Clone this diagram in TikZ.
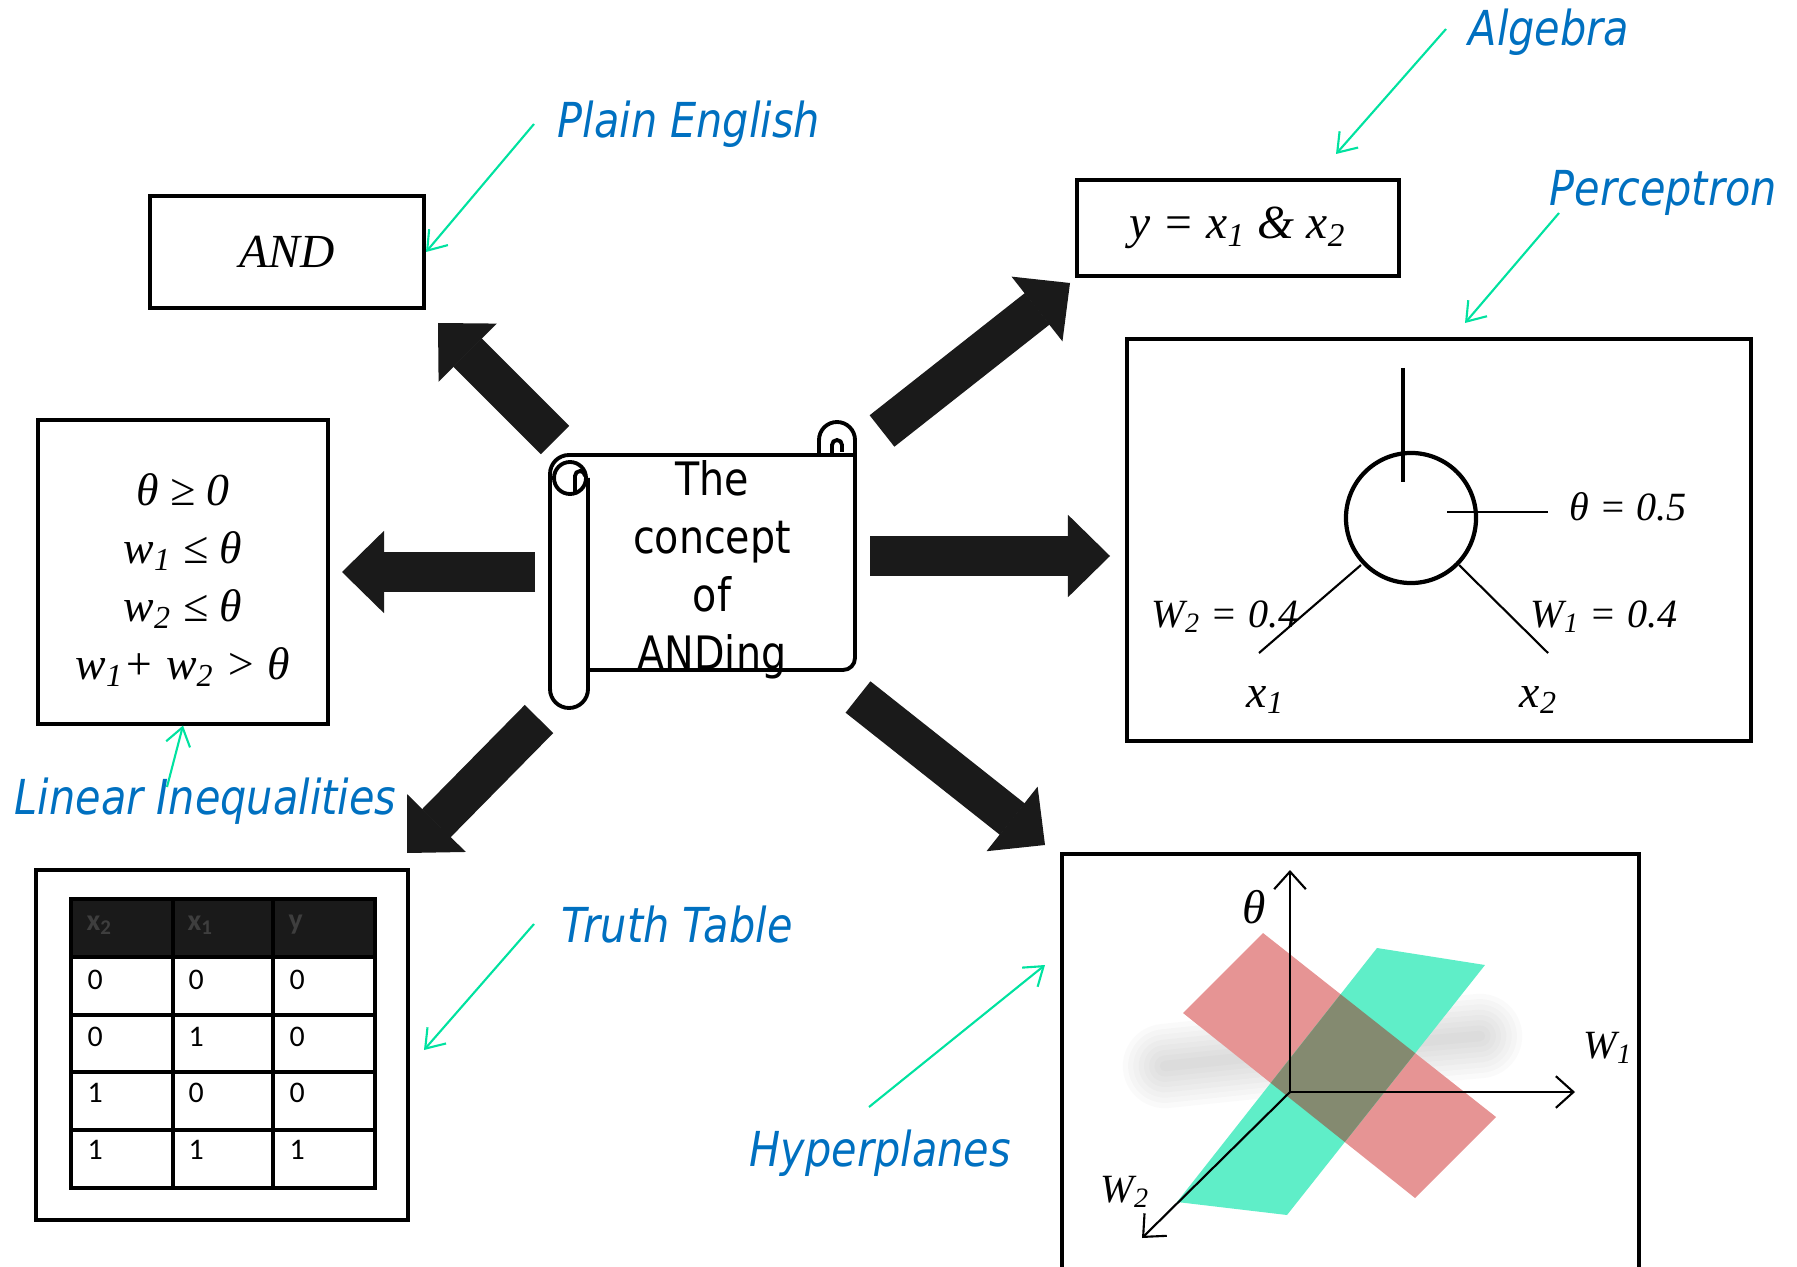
\documentclass[tikz,border=0pt]{standalone}
\usepackage{fontspec}
\usetikzlibrary{arrows.meta}

\newfontfamily\lblfont{DejaVu Sans}[FakeStretch=0.86]
\newfontfamily\eqfont{Liberation Serif}
\newfontfamily\tabfont{Carlito}

\definecolor{lblblue}{RGB}{0,112,192}
\definecolor{ptrgreen}{RGB}{0,226,160}
\definecolor{arrowdark}{RGB}{26,26,26}
\definecolor{headtext}{RGB}{62,62,62}
\definecolor{planepink}{RGB}{230,148,148}
\definecolor{planecyan}{RGB}{95,238,200}
\definecolor{planemix}{RGB}{132,138,112}

\tikzset{
  box/.style={draw, line width=1.1pt, inner sep=0pt},
  lbl/.style={text=lblblue, font=\lblfont\itshape\fontsize{13.7}{16}\selectfont, inner sep=0pt, anchor=base west},
  pointer/.style={draw=ptrgreen, line width=0.6pt, -{Straight Barb[length=5pt,width=7pt]}},
  bigarrow/.style={draw=arrowdark, line width=0.4cm, -{Triangle[width=0.82cm,length=0.42cm,line width=0.5pt]}},
  eq/.style={font=\eqfont\itshape\fontsize{13.5}{16.5}\selectfont, inner sep=0pt},
  eqsmall/.style={font=\eqfont\itshape\fontsize{11.4}{14}\selectfont, inner sep=0pt, anchor=base west},
  scrollline/.style={line width=1.1pt},
  cell/.style={font=\tabfont\fontsize{8.5}{10}\selectfont, inner sep=0pt, anchor=west},
  axis/.style={line width=0.6pt, -{Straight Barb[length=5pt,width=9pt]}}
}

\begin{document}
\begin{tikzpicture}[x=0.01cm, y=-0.01cm]
\useasboundingbox (0,0) rectangle (1797,1267);

% Cajas
\node[box, eq, minimum width=2.74cm, minimum height=1.12cm] (andbox) at (287,252) {AND};
\node[box, eq, minimum width=3.21cm, minimum height=0.96cm] (algbox) at (1238,228)
  {y = x\textsubscript{1} \& x\textsubscript{2}};
\node[box, minimum width=6.24cm, minimum height=4.01cm] (percbox) at (1439,540) {};
\node[box, minimum width=2.89cm, minimum height=3.03cm] (ineqbox) at (183,572) {};
\node[box, minimum width=3.71cm, minimum height=3.5cm] (truthbox) at (222,1045) {};
\node[box, minimum width=5.77cm, minimum height=4.4cm, anchor=north west] (hyperbox) at (1060,852) {};

% Desigualdades
\node[eq, align=center, font=\eqfont\itshape\fontsize{13}{16.5}\selectfont] (ineqtxt) at (183,580)
  {θ ≥ 0\\ w\textsubscript{1} ≤ θ\\ w\textsubscript{2} ≤ θ\\ w\textsubscript{1}+ w\textsubscript{2} > θ};

% Pergamino central
\draw[scrollline, rounded corners=3.4pt] (588,670) -- (855,670) -- (855,440);
\draw[scrollline] (855,440) arc[start angle=0, end angle=-180, radius=18] -- (819,455);
\draw[scrollline] (832,455) -- (832,445) arc[start angle=180, end angle=360, radius=5] -- (842,452);
\draw[scrollline] (855,455) -- (569,455) arc[start angle=270, end angle=180, radius=19]
  -- (550,689) arc[start angle=180, end angle=0, radius=19] -- (588,478);
\draw[scrollline] (570,478) circle[radius=16];
\draw[scrollline] (575,493) -- (575,476) arc[start angle=180, end angle=360, radius=5];
\node[align=center, font=\lblfont\fontsize{13.1}{16.5}\selectfont, inner sep=0pt] (scroll) at (712,570)
  {The\\concept\\of\\ANDing};

% Flechas grandes
\coordinate (and-tail) at (555,440);    \coordinate (and-tip) at (438,323);
\coordinate (alg-tail) at (882,431);    \coordinate (alg-tip) at (1070,283);
\coordinate (ineq-tail) at (535,572);   \coordinate (ineq-tip) at (342,572);
\coordinate (perc-tail) at (870,556);   \coordinate (perc-tip) at (1110,556);
\coordinate (truth-tail) at (539,719);  \coordinate (truth-tip) at (407,853);
\coordinate (hyper-tail) at (858,697);  \coordinate (hyper-tip) at (1045,845);
\foreach \t in {and,alg,ineq,perc,truth,hyper}
  \draw[bigarrow] (\t-tail) -- (\t-tip);

% Perceptron
\node[circle, draw, line width=1.2pt, minimum size=1.3cm, inner sep=0pt] (neuron) at (1411,518) {};
\draw[line width=1.3pt] (1403,368) -- (1403,482);
\draw[line width=0.6pt] (1447,512) -- (1548,512);
\draw[line width=0.6pt] (1361,565) -- (1259,653);
\draw[line width=0.6pt] (1459,565) -- (1548,653);
\node[eqsmall] (theta) at (1569,520) {θ = 0.5};
\node[eqsmall] (wtwo) at (1151,627) {W\textsubscript{2} = 0.4};
\node[eqsmall] (wone) at (1530,627) {W\textsubscript{1} = 0.4};
\node[eqsmall, font=\eqfont\itshape\fontsize{13}{15}\selectfont] (xone) at (1246,707) {x\textsubscript{1}};
\node[eqsmall, font=\eqfont\itshape\fontsize{13}{15}\selectfont] (xtwo) at (1519,707) {x\textsubscript{2}};

% Tabla de verdad
\fill[arrowdark] (71,899) rectangle (375,957);
\draw[line width=0.9pt] (71,899) rectangle (375,1188);
\foreach \x in {173,273}
  \draw[line width=0.9pt] (\x,899) -- (\x,1188);
\foreach \y in {957,1015,1072,1130}
  \draw[line width=0.9pt] (71,\y) -- (375,\y);
\node[cell, text=headtext, font=\tabfont\bfseries\fontsize{8.5}{10}\selectfont] (hx2) at (86,925) {x\textsubscript{2}};
\node[cell, text=headtext, font=\tabfont\bfseries\fontsize{8.5}{10}\selectfont] (hx1) at (187,925) {x\textsubscript{1}};
\node[cell, text=headtext, font=\tabfont\bfseries\fontsize{8.5}{10}\selectfont] (hy) at (288,925) {y};
\foreach \r/\y/\a/\b/\c in {1/980/0/0/0, 2/1037/0/1/0, 3/1093/1/0/0, 4/1150/1/1/1} {
  \node[cell] (r\r a) at (87,\y) {\a};
  \node[cell] (r\r b) at (188,\y) {\b};
  \node[cell] (r\r c) at (289,\y) {\c};
}

% Hiperplanos
\foreach \w in {24,21,...,3}
  \draw[gray, opacity=0.04, line width=\w pt, line cap=round, line join=round]
    (1165,1066) -- (1300,1052) -- (1480,1036);
\fill[planepink] (1263,933) -- (1496,1117) -- (1415,1198) -- (1183,1013) -- cycle;
\fill[planecyan] (1377,948) -- (1485,965) -- (1287,1215) -- (1177,1202) -- cycle;
\begin{scope}
  \clip (1263,933) -- (1496,1117) -- (1415,1198) -- (1183,1013) -- cycle;
  \fill[planemix] (1377,948) -- (1485,965) -- (1287,1215) -- (1177,1202) -- cycle;
\end{scope}
\coordinate (origin) at (1290,1092);
\coordinate (thetaend) at (1290,870);
\coordinate (w1end) at (1575,1092);
\coordinate (w2end) at (1142,1238);
\draw[axis] (origin) -- (thetaend);
\draw[axis] (origin) -- (w1end);
\draw[axis] (origin) -- (w2end);
\node[eq, anchor=base west] (thetalbl) at (1242,923) {θ};
\node[eqsmall] (w1lbl) at (1583,1058) {W\textsubscript{1}};
\node[eqsmall] (w2lbl) at (1100,1202) {W\textsubscript{2}};

% Etiquetas y flechas verdes
\node[lbl] (plain) at (557,138) {Plain English};
\node[lbl] (algebra) at (1468,46) {Algebra};
\node[lbl] (percep) at (1549,206) {Perceptron};
\node[lbl] (linear) at (14,814) {Linear Inequalities};
\node[lbl] (truth) at (561,942) {Truth Table};
\node[lbl] (hyper) at (749,1166) {Hyperplanes};
\coordinate (plain-p) at (534,124);
\coordinate (alg-p) at (1446,29);   \coordinate (alg-q) at (1336,154);
\coordinate (perc-p) at (1559,213); \coordinate (perc-q) at (1465,323);
\coordinate (lin-p) at (167,787);
\coordinate (truth-p) at (534,924); \coordinate (truth-q) at (424,1050);
\coordinate (hyper-p) at (869,1107); \coordinate (hyper-q) at (1045,965);
\draw[pointer] (plain-p) -- (andbox.east);
\draw[pointer] (alg-p) -- (alg-q);
\draw[pointer] (perc-p) -- (perc-q);
\draw[pointer] (lin-p) -- (ineqbox.south);
\draw[pointer] (truth-p) -- (truth-q);
\draw[pointer] (hyper-p) -- (hyper-q);
\end{tikzpicture}
\end{document}
